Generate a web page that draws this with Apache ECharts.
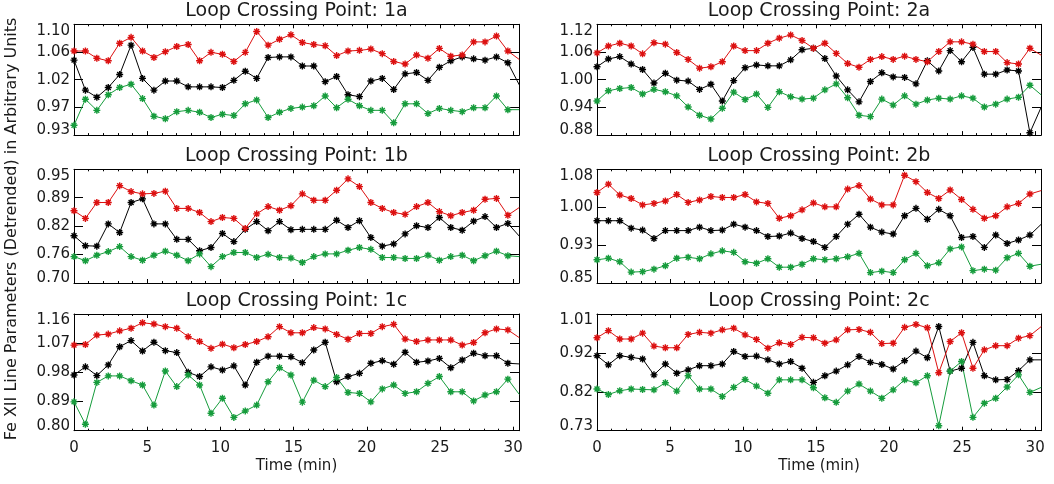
<!DOCTYPE html>
<html><head><meta charset="utf-8">
<script src="https://cdn.jsdelivr.net/npm/echarts@6/dist/echarts.min.js"></script>
<style>html,body{margin:0;padding:0;background:#fff}#c{width:1054px;height:484px}</style>
</head><body><div id="c"></div>
<script>
// ---------------- DATA ----------------
const N_POINTS = 40;
const TIME_STEP = 0.78;      // minutes between samples
const X_MAX = 30.4;
const X_TICKS = [0, 5, 10, 15, 20, 25, 30];
const X_LABELS = ['0', '5', '10', '15', '20', '25', '30'];

const P1A_RED   = [1.059,1.059,1.048,1.044,1.071,1.080,1.059,1.049,1.058,1.066,1.069,1.044,1.057,1.054,1.043,1.057,1.089,1.068,1.077,1.084,1.072,1.069,1.067,1.052,1.059,1.060,1.062,1.055,1.043,1.039,1.053,1.048,1.063,1.051,1.053,1.073,1.073,1.082,1.059,1.046];
const P1A_BLACK = [1.045,0.999,0.988,1.003,1.023,1.068,1.017,0.999,1.013,1.013,1.004,1.004,1.004,1.003,1.014,1.028,1.017,1.049,1.050,1.050,1.036,1.036,1.012,1.020,0.992,0.989,1.013,1.017,1.000,1.024,1.026,1.014,1.034,1.044,1.050,1.047,1.045,1.050,1.041,1.007];
const P1A_GREEN = [0.945,0.985,0.968,0.992,1.003,1.008,0.986,0.959,0.955,0.966,0.968,0.965,0.957,0.962,0.960,0.978,0.984,0.957,0.965,0.971,0.973,0.975,0.990,0.972,0.985,0.975,0.968,0.968,0.949,0.978,0.978,0.963,0.971,0.968,0.966,0.972,0.972,0.990,0.969,0.969];

const P1B_RED   = [0.859,0.842,0.877,0.877,0.914,0.901,0.896,0.897,0.902,0.864,0.864,0.855,0.835,0.844,0.842,0.820,0.852,0.868,0.860,0.870,0.896,0.882,0.882,0.904,0.929,0.912,0.877,0.864,0.855,0.851,0.868,0.877,0.857,0.848,0.855,0.860,0.884,0.886,0.849,0.866];
const P1B_BLACK = [0.804,0.782,0.781,0.830,0.811,0.877,0.885,0.830,0.830,0.796,0.796,0.771,0.778,0.809,0.791,0.818,0.835,0.815,0.835,0.817,0.818,0.818,0.818,0.838,0.822,0.837,0.800,0.781,0.786,0.808,0.826,0.822,0.844,0.822,0.816,0.836,0.846,0.822,0.831,0.803];
const P1B_GREEN = [0.758,0.749,0.761,0.769,0.780,0.758,0.750,0.761,0.770,0.761,0.749,0.764,0.736,0.758,0.767,0.767,0.756,0.763,0.756,0.755,0.745,0.758,0.764,0.764,0.772,0.778,0.774,0.756,0.756,0.754,0.754,0.761,0.750,0.758,0.761,0.749,0.760,0.770,0.760,0.758];

const P1C_RED   = [1.064,1.066,1.095,1.098,1.108,1.116,1.133,1.129,1.121,1.116,1.090,1.075,1.054,1.067,1.056,1.066,1.075,1.090,1.121,1.102,1.102,1.118,1.114,1.097,1.082,1.100,1.100,1.121,1.128,1.083,1.075,1.080,1.080,1.080,1.064,1.072,1.102,1.114,1.111,1.087];
const P1C_BLACK = [0.972,0.997,0.970,1.003,1.059,1.078,1.046,1.073,1.047,1.041,0.980,0.967,0.997,0.987,1.000,0.941,1.011,1.030,1.030,1.028,1.010,1.049,1.073,0.951,0.967,0.977,1.008,1.016,1.005,1.042,1.011,1.015,1.023,0.994,1.018,1.039,1.031,1.031,1.008,1.006];
const P1C_GREEN = [0.889,0.820,0.949,0.969,0.969,0.954,0.941,0.879,0.984,0.936,0.972,0.941,0.854,0.900,0.841,0.861,0.879,0.951,0.994,0.972,0.888,0.956,0.936,0.964,0.918,0.915,0.889,0.929,0.941,0.915,0.920,0.946,0.967,0.920,0.920,0.892,0.910,0.920,0.959,0.912];

const P2A_RED   = [1.058,1.073,1.079,1.073,1.056,1.080,1.077,1.059,1.044,1.025,1.028,1.039,1.073,1.063,1.063,1.079,1.090,1.097,1.085,1.068,1.079,1.057,1.035,1.027,1.044,1.050,1.044,1.051,1.044,1.039,1.061,1.082,1.082,1.077,1.061,1.061,1.037,1.034,1.068,1.053];
const P2A_BLACK = [1.028,1.045,1.050,1.034,1.022,0.993,1.014,0.999,0.997,0.979,0.990,0.954,0.998,1.026,1.032,1.030,1.030,1.043,1.065,1.068,1.046,1.008,0.978,0.952,0.996,1.015,1.006,1.005,0.991,1.041,1.019,1.063,1.039,1.070,1.012,1.012,1.021,1.019,0.885,0.941];
const P2A_GREEN = [0.954,0.976,0.981,0.983,0.969,0.979,0.974,0.965,0.941,0.923,0.915,0.938,0.973,0.957,0.969,0.940,0.974,0.963,0.958,0.960,0.978,0.991,0.961,0.923,0.920,0.958,0.945,0.965,0.947,0.956,0.960,0.958,0.965,0.960,0.941,0.947,0.958,0.962,0.988,0.967];

const P2B_RED   = [1.033,1.050,1.028,1.021,1.008,1.011,1.016,1.029,1.013,1.018,1.025,1.023,1.023,1.029,1.014,1.011,0.981,0.986,0.998,1.012,1.004,1.004,1.040,1.047,1.020,1.008,1.008,1.068,1.055,1.033,1.021,1.038,1.019,0.999,0.981,0.986,1.004,1.011,1.030,1.037];
const P2B_BLACK = [0.976,0.976,0.976,0.961,0.957,0.940,0.956,0.956,0.956,0.963,0.956,0.957,0.969,0.963,0.956,0.944,0.945,0.951,0.940,0.934,0.922,0.944,0.969,0.989,0.963,0.953,0.949,0.986,1.001,0.979,0.999,0.986,0.942,0.944,0.922,0.947,0.930,0.937,0.947,0.969];
const P2B_GREEN = [0.897,0.900,0.893,0.872,0.873,0.878,0.885,0.900,0.902,0.899,0.909,0.915,0.912,0.893,0.890,0.899,0.882,0.882,0.888,0.899,0.897,0.899,0.903,0.910,0.871,0.874,0.871,0.897,0.910,0.885,0.891,0.919,0.923,0.875,0.878,0.876,0.901,0.910,0.884,0.888];

const P2C_RED   = [0.953,0.970,0.950,0.950,0.964,0.933,0.929,0.929,0.961,0.966,0.964,0.972,0.976,0.960,0.949,0.928,0.941,0.937,0.954,0.953,0.940,0.948,0.972,0.973,0.966,0.939,0.940,0.978,0.985,0.977,0.869,0.944,0.965,0.880,0.924,0.934,0.934,0.952,0.958,0.980];
const P2C_BLACK = [0.910,0.888,0.910,0.906,0.902,0.864,0.890,0.868,0.876,0.886,0.886,0.890,0.920,0.908,0.909,0.900,0.890,0.896,0.880,0.846,0.862,0.873,0.888,0.908,0.894,0.889,0.878,0.898,0.921,0.905,0.980,0.873,0.880,0.942,0.862,0.852,0.853,0.874,0.900,0.900];
const P2C_GREEN = [0.830,0.817,0.826,0.830,0.829,0.828,0.845,0.825,0.862,0.830,0.830,0.812,0.834,0.853,0.837,0.820,0.852,0.852,0.852,0.833,0.809,0.798,0.825,0.842,0.825,0.808,0.828,0.852,0.845,0.862,0.742,0.873,0.896,0.762,0.796,0.808,0.835,0.864,0.822,0.834];

const Y_TICKS_1A = [0.93, 0.9725, 1.015, 1.0575, 1.10];
const Y_LABELS_1A = ['0.93','0.97','1.02','1.06','1.10'];
const Y_TICKS_1B = [0.70, 0.7625, 0.825, 0.8875, 0.95];
const Y_LABELS_1B = ['0.70','0.76','0.82','0.89','0.95'];
const Y_TICKS_1C = [0.80, 0.89, 0.98, 1.07, 1.16];
const Y_LABELS_1C = ['0.80','0.89','0.98','1.07','1.16'];
const Y_TICKS_2A = [0.88, 0.94, 1.00, 1.06, 1.12];
const Y_LABELS_2A = ['0.88','0.94','1.00','1.06','1.12'];
const Y_TICKS_2B = [0.85, 0.92667, 1.00333, 1.08];
const Y_LABELS_2B = ['0.85','0.93','1.00','1.08'];
const Y_TICKS_2C = [0.73, 0.82333, 0.91667, 1.01];
const Y_LABELS_2C = ['0.73','0.82','0.92','1.01'];

const TITLES = ['Loop Crossing Point: 1a','Loop Crossing Point: 1b','Loop Crossing Point: 1c',
                'Loop Crossing Point: 2a','Loop Crossing Point: 2b','Loop Crossing Point: 2c'];
const X_NAME = 'Time (min)';
const Y_NAME = 'Fe XII Line Parameters (Detrended) in Arbitrary Units';

// ---------------- LAYOUT / STYLE ----------------
const COL_LEFT = [74, 597];
const COL_WIDTH = [445, 444];
const ROW_TOP = [24.3, 169.3, 314];
const ROW_HEIGHT = [110.8, 113.7, 116.7];
const TITLE_Y = [11, 156, 301.5];
const FONT = 'DejaVu Sans';
const TEXT_COLOR = '#1a1a1a';
const RED = '#dc1010', BLACK = '#000000', GREEN = '#169c3c';
const STAR = 'path://M5,0L5,10M0,5L10,5M1.5,1.5L8.5,8.5M1.5,8.5L8.5,1.5';

const TIME = Array.from({length: N_POINTS}, (_, i) => i * TIME_STEP);

const PANELS = [
  {col:0,row:0,title:TITLES[0],ticks:Y_TICKS_1A,labels:Y_LABELS_1A,red:P1A_RED,black:P1A_BLACK,green:P1A_GREEN},
  {col:0,row:1,title:TITLES[1],ticks:Y_TICKS_1B,labels:Y_LABELS_1B,red:P1B_RED,black:P1B_BLACK,green:P1B_GREEN},
  {col:0,row:2,title:TITLES[2],ticks:Y_TICKS_1C,labels:Y_LABELS_1C,red:P1C_RED,black:P1C_BLACK,green:P1C_GREEN},
  {col:1,row:0,title:TITLES[3],ticks:Y_TICKS_2A,labels:Y_LABELS_2A,red:P2A_RED,black:P2A_BLACK,green:P2A_GREEN},
  {col:1,row:1,title:TITLES[4],ticks:Y_TICKS_2B,labels:Y_LABELS_2B,red:P2B_RED,black:P2B_BLACK,green:P2B_GREEN},
  {col:1,row:2,title:TITLES[5],ticks:Y_TICKS_2C,labels:Y_LABELS_2C,red:P2C_RED,black:P2C_BLACK,green:P2C_GREEN},
];

const grid = [], xAxis = [], yAxis = [], series = [], graphic = [];
const axisLine = {show:true, onZero:false, lineStyle:{color:'#000', width:1}};
const xFmt = v => { const k = X_TICKS.findIndex(t => Math.abs(t - v) < 1e-6); return k >= 0 ? X_LABELS[k] : ''; };

PANELS.forEach((p, g) => {
  grid.push({left: COL_LEFT[p.col], top: ROW_TOP[p.row], width: COL_WIDTH[p.col], height: ROW_HEIGHT[p.row], containLabel:false});
  const isBottom = p.row === 2;
  ['bottom','top'].forEach(pos => {
    xAxis.push({
      type:'value', gridIndex:g, position:pos, min:0, max:X_MAX, interval:5,
      axisLine, splitLine:{show:false},
      axisTick:{show:true, inside:true, length:4, lineStyle:{color:'#000'}},
      minorTick:{show:true, splitNumber:5, length:2, lineStyle:{color:'#000'}},
      minorSplitLine:{show:false},
      axisLabel:{show: isBottom && pos==='bottom', customValues:X_TICKS, formatter:xFmt, margin:10,
                 fontFamily:FONT, fontSize:15, color:TEXT_COLOR}
    });
  });
  const lo = p.ticks[0], hi = p.ticks[p.ticks.length-1];
  const last = p.ticks.length - 1;
  const fmt = v => {
    const k = p.ticks.findIndex(t => Math.abs(t - v) < 1e-6);
    if (k < 0) return '';
    if (k === 0) return '{lo|' + p.labels[k] + '}';
    if (k === last) return '{hi|' + p.labels[k] + '}';
    return p.labels[k];
  };
  const lblStyle = {fontFamily:FONT, fontSize:15, color:TEXT_COLOR};
  ['left','right'].forEach(pos => {
    yAxis.push({
      type:'value', gridIndex:g, position:pos, min:lo, max:hi,
      axisLine, splitLine:{show:false},
      axisTick:{show:true, inside:true, length:9, customValues:p.ticks, lineStyle:{color:'#000'}},
      axisLabel:{show: pos==='left', customValues:p.ticks, formatter:fmt, margin:4, ...lblStyle,
                 rich:{lo:{...lblStyle, padding:[0,0,10,0]}, hi:{...lblStyle, padding:[13,0,0,0]}}}
    });
  });
  const xi = g*2, yi = g*2;
  [[p.black, BLACK],[p.red, RED],[p.green, GREEN]].forEach(([vals, c]) => {
    series.push({
      type:'line', xAxisIndex:xi, yAxisIndex:yi,
      data: vals.map((v,i) => [TIME[i], v]),
      symbol:STAR, symbolSize:7, showSymbol:true,
      lineStyle:{color:c, width:1}, itemStyle:{color:c, borderColor:c, borderWidth:1.4},
      emphasis:{disabled:true}, silent:true, animation:false
    });
  });
  const cx = COL_LEFT[p.col] + COL_WIDTH[p.col]/2;
  graphic.push({type:'text', x:cx, y:TITLE_Y[p.row], style:{text:p.title, font:`19px "${FONT}"`, fill:TEXT_COLOR, textAlign:'center', textVerticalAlign:'middle'}});
  if (isBottom) {
    graphic.push({type:'text', x:cx, y:466, style:{text:X_NAME, font:`15px "${FONT}"`, fill:TEXT_COLOR, textAlign:'center', textVerticalAlign:'middle'}});
  }
});
graphic.push({type:'text', x:12, y:229, rotation:Math.PI/2, style:{text:Y_NAME, font:`16px "${FONT}"`, fill:TEXT_COLOR, textAlign:'center', textVerticalAlign:'middle'}});

const chart = echarts.init(document.getElementById('c'), null, {renderer:'canvas'});
chart.setOption({animation:false, backgroundColor:'#fff', grid, xAxis, yAxis, series, graphic});
</script></body></html>
